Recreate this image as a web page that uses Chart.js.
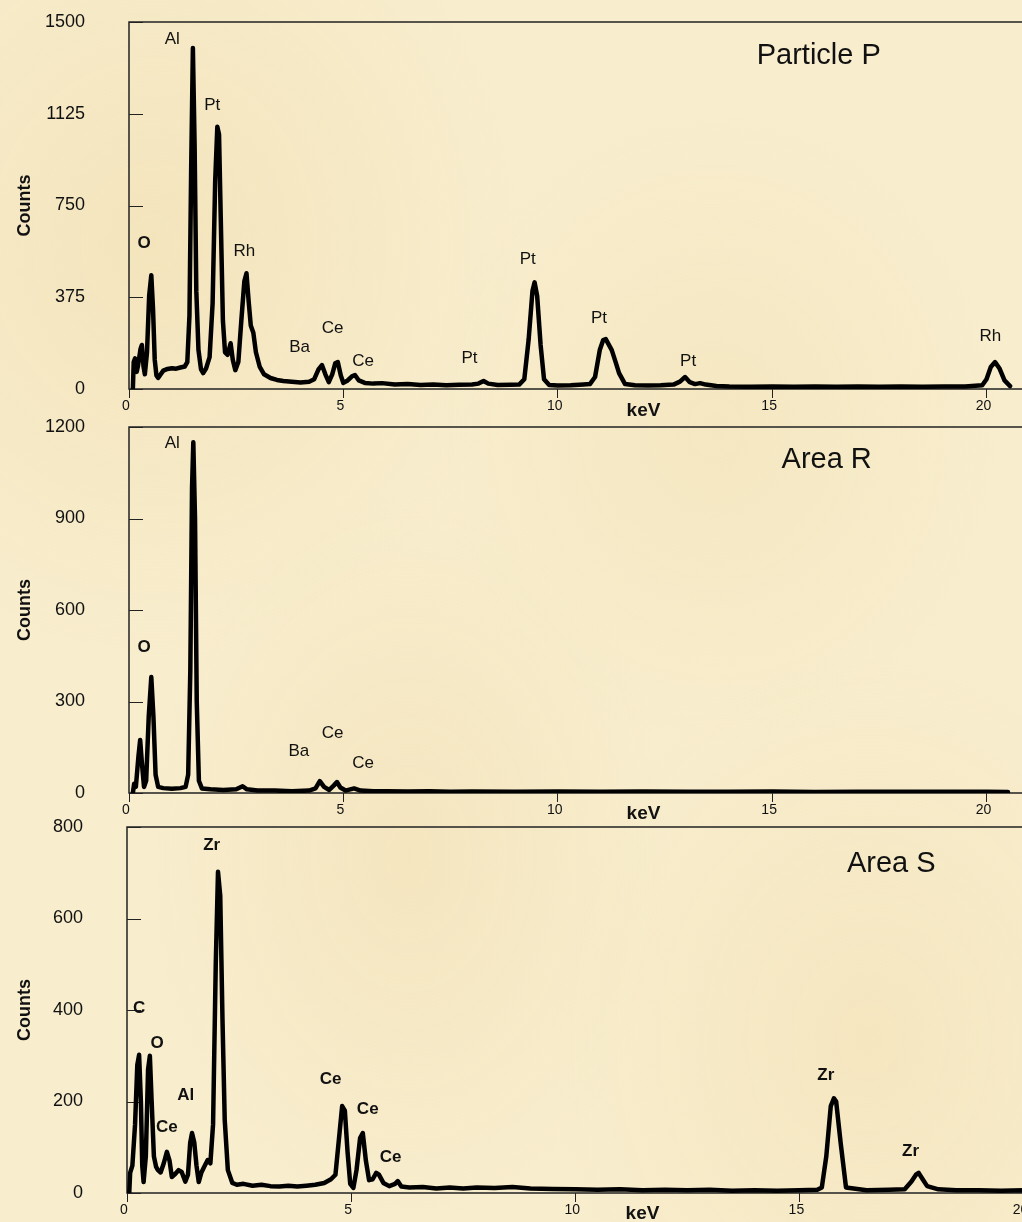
<!DOCTYPE html>
<html lang="en">
<head>
<meta charset="UTF-8" />
<title>EDS spectra</title>
<script src="https://cdn.jsdelivr.net/npm/chart.js"></script>
<style>
  html, body {
    margin: 0;
    padding: 0;
    width: 1022px;
    height: 1222px;
    overflow: hidden;
  }
  body {
    background-color: #f8edcd;
    background-image:
      radial-gradient(ellipse at 15% 20%, rgba(238, 218, 168, 0.45), transparent 30%),
      radial-gradient(ellipse at 70% 35%, rgba(240, 222, 175, 0.4), transparent 28%),
      radial-gradient(ellipse at 40% 70%, rgba(238, 218, 170, 0.4), transparent 30%),
      radial-gradient(ellipse at 85% 85%, rgba(240, 220, 172, 0.4), transparent 26%);
  }
  canvas {
    position: absolute;
    left: 0;
  }
</style>
</head>
<body>
<canvas id="chartP" width="1170" height="422" style="top: 0px"></canvas>
<canvas id="chartR" width="1170" height="420" style="top: 405px"></canvas>
<canvas id="chartS" width="1170" height="420" style="top: 805px"></canvas>
<script>
// ---- Particle P ----
const pKev = [
  0.09, 0.11, 0.14, 0.18, 0.21, 0.27, 0.30, 0.34, 0.37, 0.42, 0.47, 0.52, 0.56, 0.60, 0.64, 0.68,
  0.74, 0.80, 0.90, 1.00, 1.10, 1.20, 1.30, 1.36, 1.41, 1.45, 1.49, 1.53, 1.57, 1.62, 1.68, 1.73,
  1.80, 1.88, 1.95, 2.01, 2.06, 2.10, 2.14, 2.19, 2.24, 2.30, 2.37, 2.42, 2.48, 2.55, 2.62, 2.69,
  2.74, 2.79, 2.84, 2.90, 2.96, 3.05, 3.15, 3.30, 3.45, 3.60, 3.80, 4.00, 4.20, 4.32, 4.42, 4.50,
  4.58, 4.66, 4.74, 4.81, 4.87, 4.94, 5.00, 5.10, 5.20, 5.27, 5.36, 5.50, 5.70, 5.90, 6.20, 6.50,
  6.80, 7.10, 7.40, 7.70, 8.00, 8.15, 8.27, 8.38, 8.60, 8.90, 9.10, 9.22, 9.32, 9.41, 9.46, 9.52,
  9.60, 9.68, 9.80, 10.00, 10.30, 10.60, 10.75, 10.87, 10.98, 11.06, 11.12, 11.26, 11.35, 11.43, 11.57, 11.80,
  12.10, 12.40, 12.70, 12.85, 12.97, 13.08, 13.20, 13.32, 13.45, 13.70, 14.00, 14.50, 15.00, 15.50, 16.00, 16.50,
  17.00, 17.50, 18.00, 18.50, 19.00, 19.50, 19.90, 20.00, 20.10, 20.20, 20.30, 20.42, 20.55
];
const pCounts = [
  0, 110, 125, 70, 95, 165, 180, 90, 60, 150, 380, 465, 330, 120, 55, 45,
  60, 75, 82, 85, 83, 88, 92, 110, 300, 900, 1394, 1000, 400, 160, 80, 65,
  85, 130, 350, 850, 1072, 1040, 700, 280, 150, 140, 187, 120, 77, 110, 280, 440,
  473, 360, 260, 230, 150, 90, 60, 45, 37, 33, 30, 27, 30, 40, 80, 98,
  60, 28, 60, 105, 110, 55, 25, 35, 52, 57, 35, 25, 22, 24, 18, 20,
  16, 18, 15, 17, 18, 22, 33, 22, 16, 17, 18, 40, 200, 400, 436, 380,
  180, 40, 16, 14, 15, 18, 20, 49, 159, 200, 204, 159, 110, 65, 20, 15,
  14, 15, 18, 30, 49, 28, 20, 24, 18, 12, 10, 9, 10, 9, 10, 9,
  10, 9, 10, 9, 10, 10, 15, 40, 90, 110, 85, 35, 12
];
const pLabelText = ["O", "Al", "Pt", "Rh", "Ba", "Ce", "Ce", "Pt", "Pt", "Pt", "Pt", "Rh"];
const pLabelKev = [0.35, 1.01, 1.94, 2.69, 3.98, 4.75, 5.46, 7.94, 9.30, 10.96, 13.04, 20.09];
const pLabelCounts = [595, 1431, 1158, 563, 171, 249, 114, 126, 530, 289, 114, 216];
const pYTicks = [0, 375, 750, 1125, 1500];

// ---- Area R ----
const rKev = [
  0.09, 0.12, 0.16, 0.22, 0.26, 0.30, 0.35, 0.40, 0.46, 0.52, 0.57, 0.62, 0.68, 0.80, 1.00, 1.20,
  1.32, 1.38, 1.43, 1.47, 1.50, 1.54, 1.58, 1.63, 1.70, 1.90, 2.20, 2.50, 2.65, 2.75, 3.00, 3.40,
  3.80, 4.20, 4.35, 4.45, 4.55, 4.67, 4.78, 4.85, 4.93, 5.05, 5.25, 5.40, 5.70, 6.00, 6.50, 7.00,
  7.50, 8.00, 9.00, 10.00, 11.00, 12.00, 13.00, 14.00, 15.00, 16.00, 17.00, 18.00, 19.00, 20.00, 20.50
];
const rCounts = [
  0, 30, 20, 120, 174, 100, 20, 40, 250, 380, 250, 60, 20, 16, 14, 16,
  20, 60, 400, 1000, 1150, 900, 300, 40, 15, 12, 10, 12, 22, 12, 8, 8,
  6, 8, 15, 39, 20, 10, 25, 36, 18, 8, 15, 8, 6, 6, 5, 6,
  4, 5, 4, 5, 4, 5, 4, 4, 5, 3, 4, 4, 4, 4, 3
];
const rLabelText = ["O", "Al", "Ba", "Ce", "Ce"];
const rLabelKev = [0.35, 1.01, 3.96, 4.75, 5.46];
const rLabelCounts = [479, 1148, 138, 197, 98];
const rYTicks = [0, 300, 600, 900, 1200];

// ---- Area S ----
const sKev = [
  0.05, 0.07, 0.12, 0.18, 0.23, 0.27, 0.31, 0.34, 0.37, 0.42, 0.47, 0.51, 0.55, 0.60, 0.65, 0.69,
  0.75, 0.82, 0.89, 0.95, 1.00, 1.08, 1.15, 1.22, 1.30, 1.36, 1.41, 1.45, 1.50, 1.55, 1.60, 1.66,
  1.72, 1.80, 1.86, 1.92, 1.98, 2.03, 2.08, 2.13, 2.18, 2.25, 2.35, 2.45, 2.60, 2.80, 3.00, 3.20,
  3.40, 3.60, 3.80, 4.00, 4.20, 4.40, 4.55, 4.65, 4.73, 4.80, 4.86, 4.92, 4.98, 5.05, 5.12, 5.20,
  5.26, 5.33, 5.40, 5.48, 5.56, 5.62, 5.72, 5.85, 5.98, 6.04, 6.12, 6.30, 6.60, 6.90, 7.20, 7.50,
  7.80, 8.20, 8.60, 9.00, 9.50, 10.00, 10.50, 11.00, 11.50, 12.00, 12.50, 13.00, 13.50, 14.00, 14.50, 15.00,
  15.40, 15.50, 15.60, 15.70, 15.77, 15.82, 15.92, 16.04, 16.50, 17.00, 17.35, 17.50, 17.60, 17.66, 17.75, 17.85,
  18.10, 18.50, 19.00, 19.50, 20.00, 20.50, 21.00
];
const sCounts = [
  0, 44, 60, 150, 280, 302, 200, 60, 24, 80, 270, 300, 200, 80, 57, 50,
  45, 65, 90, 70, 35, 42, 50, 46, 25, 40, 110, 131, 111, 60, 24, 45,
  57, 72, 65, 150, 500, 702, 650, 380, 160, 50, 22, 18, 20, 16, 18, 15,
  14, 16, 14, 16, 18, 22, 30, 40, 120, 190, 180, 90, 20, 11, 50, 120,
  131, 70, 28, 30, 44, 40, 22, 15, 20, 26, 14, 12, 13, 10, 12, 10,
  12, 11, 13, 10, 9, 8, 7, 8, 6, 7, 6, 7, 5, 6, 5, 6,
  7, 12, 80, 190, 207, 200, 110, 12, 6, 7, 8, 25, 40, 44, 30, 15,
  8, 6, 6, 5, 6, 5, 5
];
const sLabelText = ["C", "O", "Ce", "Al", "Zr", "Ce", "Ce", "Ce", "Zr", "Zr"];
const sLabelKev = [0.27, 0.67, 0.89, 1.31, 1.89, 4.54, 5.37, 5.88, 15.59, 17.48];
const sLabelCounts = [404, 328, 144, 214, 761, 249, 184, 77, 258, 92];
const sYTicks = [0, 200, 400, 600, 800];

const xTicks = [0, 5, 10, 15, 20];

Chart.defaults.font.family = "'Liberation Sans', Arial, sans-serif";
Chart.defaults.color = "#111";

const decoPlugin = {
  id: "deco",
  beforeDatasetsDraw(chart, args, opts) {
    const { ctx, chartArea } = chart;
    const y = chart.scales.y;
    ctx.save();
    ctx.strokeStyle = "#222";
    ctx.lineWidth = 1.5;
    ctx.strokeRect(chartArea.left, chartArea.top, chartArea.right - chartArea.left, chartArea.bottom - chartArea.top);
    // y ticks point inward
    ctx.lineWidth = 1;
    y.ticks.forEach((t) => {
      const py = Math.round(y.getPixelForValue(t.value)) + 0.5;
      ctx.beginPath();
      ctx.moveTo(chartArea.left, py);
      ctx.lineTo(chartArea.left + 14, py);
      ctx.stroke();
    });
    ctx.restore();
  },
  afterDatasetsDraw(chart, args, opts) {
    const { ctx } = chart;
    const x = chart.scales.x;
    const y = chart.scales.y;
    ctx.save();
    ctx.fillStyle = "#111";
    ctx.textAlign = "center";
    ctx.textBaseline = "middle";
    opts.text.forEach((txt, i) => {
      const bold = opts.bold || txt === "O";
      ctx.font = (bold ? "bold " : "") + "17px 'Liberation Sans', Arial, sans-serif";
      ctx.fillText(txt, x.getPixelForValue(opts.kev[i]), y.getPixelForValue(opts.counts[i]));
    });
    ctx.textAlign = "left";
    ctx.textBaseline = "alphabetic";
    ctx.font = "29px 'Liberation Sans', Arial, sans-serif";
    ctx.fillText(opts.title, x.getPixelForValue(opts.titleKev), y.getPixelForValue(opts.titleCounts));
    ctx.restore();
  },
};

function makeChart(id, kev, counts, yTicks, xMax, axisWidth, axisHeight, labels) {
  const points = kev.map((k, i) => ({ x: k, y: counts[i] }));
  return new Chart(document.getElementById(id), {
    type: "line",
    data: {
      datasets: [
        {
          data: points,
          borderColor: "#000",
          borderWidth: 4.5,
          borderJoinStyle: "round",
          borderCapStyle: "round",
          pointRadius: 0,
          tension: 0,
          fill: false,
        },
      ],
    },
    options: {
      responsive: false,
      animation: false,
      layout: { padding: { top: 22, right: 12, left: 0, bottom: 0 } },
      plugins: {
        legend: { display: false },
        tooltip: { enabled: false },
        deco: labels,
      },
      scales: {
        x: {
          type: "linear",
          min: 0,
          max: xMax,
          afterBuildTicks: (s) => {
            s.ticks = xTicks.map((v) => ({ value: v }));
          },
          afterFit: (s) => {
            s.height = axisHeight;
          },
          border: { display: false },
          grid: { drawOnChartArea: false, drawTicks: true, tickLength: 9, color: "#222" },
          ticks: { font: { size: 14 }, padding: 0, labelOffset: -3, maxRotation: 0, callback: (v) => String(v) },
          title: { display: true, text: "keV", font: { size: 19, weight: "bold" }, padding: { top: 0, bottom: 0 } },
        },
        y: {
          min: 0,
          max: yTicks[yTicks.length - 1],
          afterBuildTicks: (s) => {
            s.ticks = yTicks.map((v) => ({ value: v }));
          },
          afterFit: (s) => {
            s.width = axisWidth;
          },
          border: { display: false },
          // invisible tick marks only push the labels left
          grid: { display: false, drawTicks: true, tickLength: 40, color: "rgba(0,0,0,0)" },
          ticks: { font: { size: 18 }, padding: 4, callback: (v) => String(v) },
          title: { display: true, text: "Counts", font: { size: 18, weight: "bold" }, padding: { top: 14, bottom: 0 } },
        },
      },
    },
    plugins: [decoPlugin],
  });
}

makeChart("chartP", pKev, pCounts, pYTicks, 24, 129, 33, {
  text: pLabelText, kev: pLabelKev, counts: pLabelCounts, bold: false,
  title: "Particle P", titleKev: 14.64, titleCounts: 1329,
});
makeChart("chartR", rKev, rCounts, rYTicks, 24, 129, 32, {
  text: rLabelText, kev: rLabelKev, counts: rLabelCounts, bold: false,
  title: "Area R", titleKev: 15.22, titleCounts: 1066,
});
makeChart("chartS", sKev, sCounts, sYTicks, 23, 127, 32, {
  text: sLabelText, kev: sLabelKev, counts: sLabelCounts, bold: true,
  title: "Area S", titleKev: 16.06, titleCounts: 702,
});
</script>
</body>
</html>
